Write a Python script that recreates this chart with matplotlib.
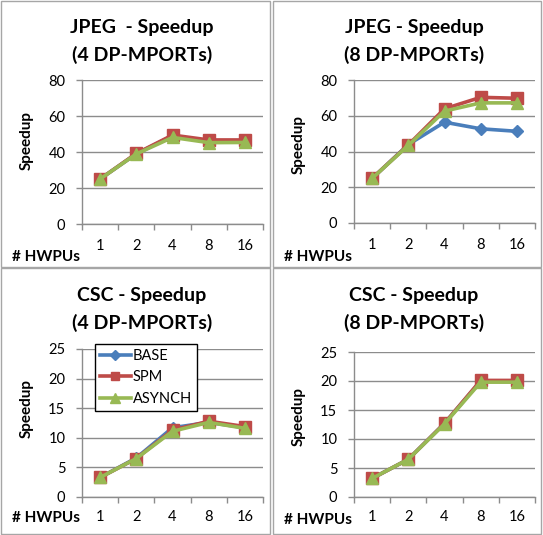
import matplotlib
matplotlib.use("Agg")
import matplotlib.pyplot as plt
from matplotlib.patches import Rectangle
import numpy as np

plt.rcParams['font.family'] = ['Lato', 'DejaVu Sans']

categories = ["1", "2", "4", "8", "16"]
series_names = ["BASE", "SPM", "ASYNCH"]

jpeg4_base = [25.0, 39.0, 49.0, 46.0, 46.0]
jpeg4_spm = [25.0, 39.2, 49.4, 46.7, 46.7]
jpeg4_asynch = [25.0, 38.9, 48.1, 45.2, 45.3]

jpeg8_base = [24.9, 43.9, 56.4, 52.7, 51.3]
jpeg8_spm = [25.0, 43.7, 63.9, 70.3, 69.8]
jpeg8_asynch = [25.0, 43.4, 62.6, 67.2, 67.2]

csc4_base = [3.3, 6.6, 11.7, 12.6, 11.7]
csc4_spm = [3.3, 6.5, 11.3, 12.8, 11.9]
csc4_asynch = [3.3, 6.5, 11.1, 12.6, 11.6]

csc8_base = [3.2, 6.5, 12.7, 20.0, 19.9]
csc8_spm = [3.2, 6.5, 12.7, 20.1, 20.1]
csc8_asynch = [3.2, 6.5, 12.6, 19.8, 19.8]

titles = ["JPEG  - Speedup\n(4 DP-MPORTs)", "JPEG - Speedup\n(8 DP-MPORTs)",
          "CSC - Speedup\n(4 DP-MPORTs)", "CSC - Speedup\n(8 DP-MPORTs)"]
ylims = [(0, 80, 20), (0, 80, 20), (0, 25, 5), (0, 25, 5)]

colors = ["#4A7EBB", "#BE4B48", "#98B954"]
markers = ["D", "s", "^"]
msizes = [6, 8, 9]

W, H = 543, 535
fig = plt.figure(figsize=(W / 100, H / 100), dpi=100)

def frac_rect(l, t, r, b):
    return [l / W, 1 - b / H, (r - l) / W, (b - t) / H]

# panel borders
panels = [(1, 1, 270, 267), (273, 1, 541, 267), (1, 268, 270, 534), (273, 268, 541, 534)]
for (l, t, r, b) in panels:
    fig.patches.append(Rectangle((l / W, 1 - b / H), (r - l) / W, (b - t) / H,
                                 transform=fig.transFigure, fill=False,
                                 edgecolor="#A6A6A6", linewidth=1.0))

axes_px = [(82, 80, 263, 224), (354, 80, 535, 223), (82, 349, 263, 497), (354, 352, 535, 497)]
data = [(jpeg4_base, jpeg4_spm, jpeg4_asynch),
        (jpeg8_base, jpeg8_spm, jpeg8_asynch),
        (csc4_base, csc4_spm, csc4_asynch),
        (csc8_base, csc8_spm, csc8_asynch)]
title_pos = [(142, 28, 55), (414, 28, 55), (142, 296, 323), (414, 296, 323)]
ylabel_pos = [(27, 140), (299, 145), (27, 408), (299, 416)]
hw_pos = [(12, 257), (284, 257), (12, 518), (284, 520)]
xpads = [11, 11, 9.5, 9.5]

grid_col = "#8C8C8C"
x = np.arange(len(categories))
for i in range(4):
    ax = fig.add_axes(frac_rect(*axes_px[i]))
    for s in range(3):
        ax.plot(x, data[i][s], color=colors[s], marker=markers[s], markersize=msizes[s],
                linewidth=2.6, label=series_names[s], markeredgecolor=colors[s])
    lo, hi, step = ylims[i]
    ax.set_ylim(lo, hi)
    ax.set_yticks(np.arange(lo, hi + step / 2, step))
    ax.set_xlim(-0.5, len(categories) - 0.5)
    ax.set_xticks(x)
    ax.set_xticklabels(categories)
    ax.set_xticks(np.arange(-0.5, len(categories), 1.0), minor=True)
    ax.tick_params(axis='x', which='major', length=0, pad=xpads[i], labelsize=10.5)
    ax.tick_params(axis='x', which='minor', length=4, color=grid_col, width=1)
    ax.tick_params(axis='y', length=4, color=grid_col, width=1, pad=8, labelsize=10.5)
    ax.grid(axis='y', color=grid_col, linewidth=1)
    ax.set_axisbelow(True)
    for sp in ["top", "right"]:
        ax.spines[sp].set_visible(False)
    for sp in ["left", "bottom"]:
        ax.spines[sp].set_color(grid_col)
        ax.spines[sp].set_linewidth(1)
    tx, ty1, ty2 = title_pos[i]
    line1, line2 = titles[i].split("\n")
    fig.text(tx / W, 1 - ty1 / H, line1, ha="center", va="center", fontsize=14, fontweight="bold")
    fig.text(tx / W, 1 - ty2 / H, line2, ha="center", va="center", fontsize=14, fontweight="bold")
    yx, yy = ylabel_pos[i]
    fig.text(yx / W, 1 - yy / H, "Speedup", rotation=90, ha="center", va="center",
             fontsize=11, fontweight="bold")
    hx, hy = hw_pos[i]
    fig.text(hx / W, 1 - hy / H, "# HWPUs", ha="left", va="center", fontsize=11, fontweight="bold")
    if i == 2:
        l0, t0, r0, b0 = axes_px[i]
        bx = (95 - l0) / (r0 - l0)
        by = (b0 - 344) / (b0 - t0)
        leg = ax.legend(loc="upper left", bbox_to_anchor=(bx, by), borderaxespad=0,
                        fontsize=10.5, frameon=True, fancybox=False, borderpad=0.35,
                        handlelength=2.1, labelspacing=0.5, handletextpad=0.15,
                        markerscale=0.8, framealpha=1)
        leg.get_frame().set_edgecolor("black")
        leg.get_frame().set_linewidth(1)
        leg.set_zorder(10)

fig.savefig("out.png", dpi=100)
